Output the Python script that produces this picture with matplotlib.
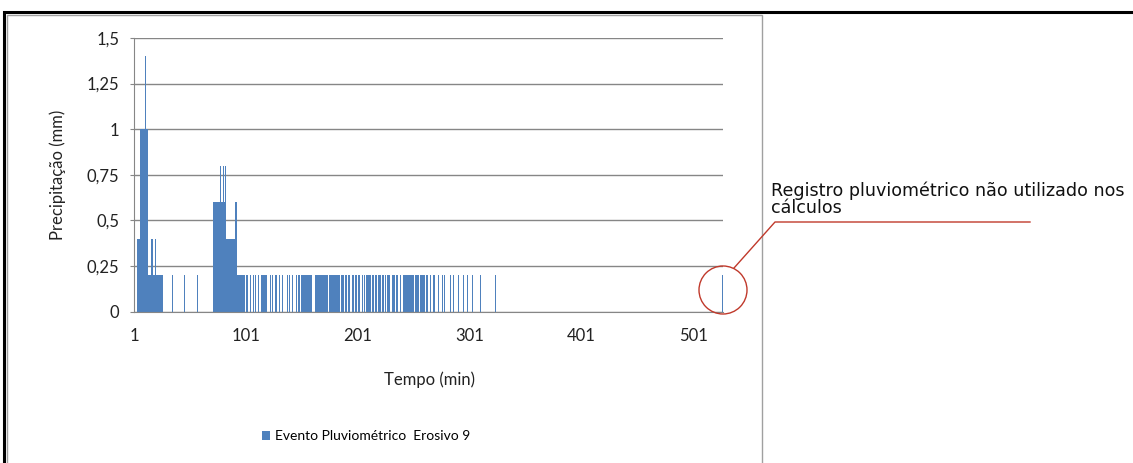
import matplotlib
matplotlib.use("Agg")
import matplotlib.pyplot as plt
from matplotlib.patches import Rectangle, Ellipse
from matplotlib.lines import Line2D
import numpy as np

# minutes of the event and the rain (mm) recorded in each one
n_minutes = 527
peaks = {4: 0.4, 5: 0.4, 6: 0.4,
         7: 1.0, 8: 1.0, 9: 1.0, 10: 1.0, 11: 1.4, 12: 1.0, 13: 1.0,
         17: 0.4, 20: 0.4,
         72: 0.6, 73: 0.6, 74: 0.6, 75: 0.6, 76: 0.6, 77: 0.6, 78: 0.8,
         79: 0.6, 80: 0.6, 81: 0.8, 82: 0.6, 83: 0.8,
         84: 0.4, 85: 0.4, 86: 0.4, 87: 0.4, 88: 0.4, 89: 0.4, 90: 0.4, 91: 0.4,
         92: 0.6, 93: 0.6}
minutes_02 = [14, 15, 16, 18, 19, 21, 22, 23, 24, 25, 26,
              35, 46, 58,
              94, 95, 96, 97, 98, 99, 100,
              102, 105, 108, 110, 112, 115, 116, 117, 118, 119, 123, 125, 128,
              131, 134, 138, 140, 143, 146, 148, 149,
              151, 152, 153, 154, 155, 156, 157, 158, 159, 160,
              163, 164, 165, 166, 167, 168, 169, 170, 171, 172, 173, 174,
              176, 177, 178, 179, 180, 181, 182, 183, 184, 185,
              187, 188, 190, 191, 193, 194, 196, 197, 199, 200, 202, 203, 205,
              207, 209, 210, 211, 212, 214, 215, 217, 218, 220, 221, 223, 224,
              226, 228, 229, 232, 233, 234, 236, 237, 239,
              242, 243, 244, 245, 246, 247, 248, 249, 250, 251,
              253, 254, 255, 257, 258, 259, 260, 261, 263, 266, 269, 270, 273,
              277, 279, 284, 287, 291, 296, 299, 304, 311, 324,
              527]
y_ticks = [0, 0.25, 0.5, 0.75, 1, 1.25, 1.5]
y_labels = ["0", "0,25", "0,5", "0,75", "1", "1,25", "1,5"]
x_ticks = [1, 101, 201, 301, 401, 501]

minutes = np.arange(1, n_minutes + 1)
rain = np.zeros(n_minutes)
for m in minutes_02:
    rain[m - 1] = 0.2
for m, v in peaks.items():
    rain[m - 1] = v

W, H = 1133, 463
fig = plt.figure(figsize=(W / 100, H / 100), dpi=100)
font = ["Lato", "DejaVu Sans"]
grey = "#868686"
txt = "#222222"

def fx(px):
    return px / W

def fy(py):
    return 1 - py / H

# frames around the chart
fig.patches.append(Rectangle((fx(4), fy(470)), fx(1140) - fx(4), fy(12) - fy(470),
                             transform=fig.transFigure, fill=False,
                             edgecolor="black", linewidth=2.2))
fig.patches.append(Rectangle((fx(7), fy(470)), fx(762) - fx(7), fy(15) - fy(470),
                             transform=fig.transFigure, fill=False,
                             edgecolor="#a0a0a0", linewidth=1.0))

ax = fig.add_axes([fx(133.5), fy(311.5), fx(722.7) - fx(133.5), fy(38) - fy(311.5)])
bars = ax.bar(minutes, rain, width=1.0, color="#4F81BD", linewidth=0,
              label="Evento Pluviométrico  Erosivo 9")

ax.set_xlim(0.5, n_minutes + 0.5)
ax.set_ylim(0, 1.5)
ax.set_yticks(y_ticks)
ax.set_yticklabels(y_labels)
ax.set_xticks(x_ticks)
ax.set_xticklabels([str(t) for t in x_ticks])
ax.yaxis.grid(True, color=grey, linewidth=1.0)
ax.set_axisbelow(True)
for s in ["top", "right"]:
    ax.spines[s].set_visible(False)
ax.spines["left"].set_color(grey)
ax.spines["bottom"].set_color(grey)
ax.tick_params(axis="y", length=3, color=grey, pad=7, labelsize=12)
ax.tick_params(axis="x", length=0, pad=12, labelsize=12)
for lab in ax.get_xticklabels() + ax.get_yticklabels():
    lab.set_family(font)
    lab.set_color(txt)

fig.text(fx(430), fy(380), "Tempo (min)", ha="center", va="center",
         family=font, fontsize=12, color=txt)
fig.text(fx(58), fy(175), "Precipitação (mm)", ha="center", va="center",
         rotation=90, family=font, fontsize=12, color=txt)

leg = fig.legend(handles=[bars], loc="center", bbox_to_anchor=(fx(366), fy(436)),
                 frameon=False, handlelength=0.6, handleheight=0.6,
                 handletextpad=0.3, prop={"family": font, "size": 10})

# annotation of the last record
red = "#C0392B"
fig.patches.append(Ellipse((fx(723), fy(290)), fx(48), 48 / H,
                           transform=fig.transFigure, fill=False,
                           edgecolor=red, linewidth=1.0))
fig.lines.append(Line2D([fx(734), fx(775), fx(1030)], [fy(268), fy(222), fy(222)],
                        transform=fig.transFigure, color=red, linewidth=1.0))
fig.text(fx(771), fy(199), "Registro pluviométrico não utilizado nos\ncálculos",
         ha="left", va="center", family="DejaVu Sans", fontsize=12.6,
         linespacing=0.92, color="#111111")

fig.savefig("out.png", dpi=100)
